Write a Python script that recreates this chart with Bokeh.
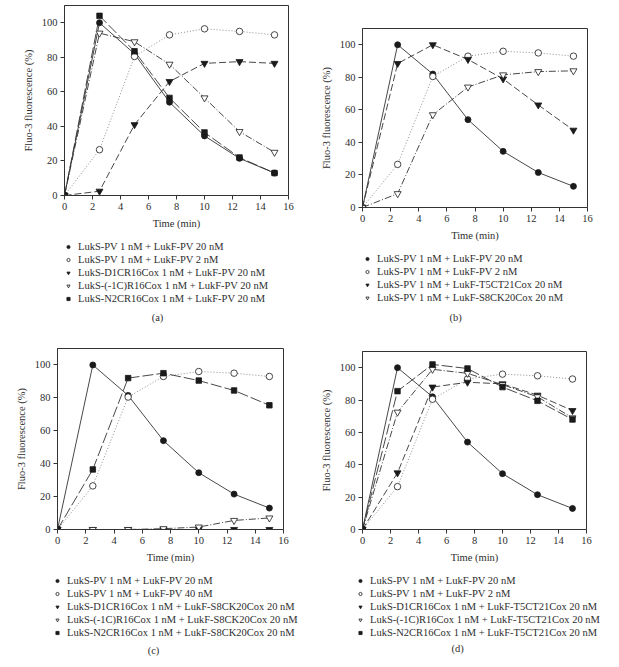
from bokeh.plotting import figure
from bokeh.models import Legend, LegendItem, Label, Range1d, FixedTicker
from bokeh.layouts import column, row
from bokeh.embed import file_html
from bokeh.resources import INLINE

# ---------------- data ----------------
time_min = [0, 2.5, 5, 7.5, 10, 12.5, 15]
x_ticks = [0, 2, 4, 6, 8, 10, 12, 14, 16]
y_ticks = [0, 20, 40, 60, 80, 100]

# panel (a)
a_pv20 = [0, 100, 82, 54, 34.5, 21.5, 13]
a_pv2 = [0, 26.5, 80.5, 93, 96.5, 95, 93]
a_d1c = [0, 2.5, 41, 66, 76.5, 77.5, 76.5]
a_m1c = [0, 94, 89, 76, 56.5, 37, 25]
a_n2c = [0, 104, 83.5, 56.5, 36.5, 22, 13]
a_labels = ["LukS-PV 1 nM + LukF-PV 20 nM",
            "LukS-PV 1 nM + LukF-PV 2 nM",
            "LukS-D1CR16Cox 1 nM + LukF-PV 20 nM",
            "LukS-(-1C)R16Cox 1 nM + LukF-PV 20 nM",
            "LukS-N2CR16Cox 1 nM + LukF-PV 20 nM"]

# panel (b)
b_pv20 = [0, 100, 82, 54, 34.5, 21.5, 13]
b_pv2 = [0, 26.5, 80.5, 93, 96, 95, 93]
b_t5c = [0, 88.5, 100, 91, 79, 63, 47.5]
b_s8c = [0, 8.5, 57, 74, 81.5, 83.5, 84]
b_labels = ["LukS-PV 1 nM + LukF-PV 20 nM",
            "LukS-PV 1 nM + LukF-PV 2 nM",
            "LukS-PV 1 nM + LukF-T5CT21Cox 20 nM",
            "LukS-PV 1 nM + LukF-S8CK20Cox 20 nM"]

# panel (c)
c_pv20 = [0, 100, 81.5, 54, 34.5, 21.5, 13]
c_pv40 = [0, 26.5, 80.5, 93, 96, 95, 93]
c_d1c = [0, 0, 0, 0, 0, 0, 0]
c_m1c = [0, 0, 0, 0.5, 1.5, 5.5, 7]
c_n2c = [0, 36.5, 92, 95, 90.5, 84.5, 75.5]
c_labels = ["LukS-PV 1 nM + LukF-PV 20 nM",
            "LukS-PV 1 nM + LukF-PV 40 nM",
            "LukS-D1CR16Cox 1 nM + LukF-S8CK20Cox 20 nM",
            "LukS-(-1C)R16Cox 1 nM + LukF-S8CK20Cox 20 nM",
            "LukS-N2CR16Cox 1 nM + LukF-S8CK20Cox 20 nM"]

# panel (d)
d_pv20 = [0, 100, 82, 54, 34.5, 21.5, 13]
d_pv2 = [0, 26.5, 80.5, 93, 96, 95, 93]
d_d1c = [0, 35, 88, 91, 90, 83, 73.5]
d_m1c = [0, 72.5, 99, 96.5, 89.5, 82, 69]
d_n2c = [0, 85.5, 102, 99.5, 88, 79.5, 68]
d_labels = ["LukS-PV 1 nM + LukF-PV 20 nM",
            "LukS-PV 1 nM + LukF-PV 2 nM",
            "LukS-D1CR16Cox 1 nM + LukF-T5CT21Cox 20 nM",
            "LukS-(-1C)R16Cox 1 nM + LukF-T5CT21Cox 20 nM",
            "LukS-N2CR16Cox 1 nM + LukF-T5CT21Cox 20 nM"]

# ---------------- styles ----------------
FONT = "Liberation Serif"
INK = "#2e2e2e"
STY = {
    "fcircle": dict(marker="circle", size=6, fill="#1a1a1a", dash="solid", lc="#333333"),
    "ocircle": dict(marker="circle", size=6.5, fill="white", dash="1 2", lc="#808080"),
    "ftri": dict(marker="inverted_triangle", size=7, fill="#1a1a1a", dash="7 3", lc="#333333"),
    "otri": dict(marker="inverted_triangle", size=7, fill="white", dash="7 2 1 2", lc="#333333"),
    "fsq": dict(marker="square", size=5.5, fill="#1a1a1a", dash="11 3", lc="#333333"),
}


def chart(W, H, bl, br, bt, bb, series):
    p = figure(width=W, height=H, min_border_left=bl, min_border_right=br,
               min_border_top=bt, min_border_bottom=bb,
               x_range=Range1d(0, 16), y_range=Range1d(0, 110),
               output_backend="svg", toolbar_location=None)
    p.title.visible = False
    p.grid.visible = False
    p.outline_line_color = "#333333"
    p.outline_line_width = 1
    p.xaxis.ticker = FixedTicker(ticks=x_ticks)
    p.yaxis.ticker = FixedTicker(ticks=y_ticks)
    p.xaxis.axis_label = "Time (min)"
    p.yaxis.axis_label = "Fluo-3 fluorescence (%)"
    for ax in (p.xaxis, p.yaxis):
        ax.major_tick_in = 0
        ax.major_tick_out = 4
        ax.minor_tick_line_color = None
        ax.axis_line_color = "#333333"
        ax.major_tick_line_color = "#333333"
        ax.major_label_text_font = FONT
        ax.major_label_text_font_size = "10.5px"
        ax.major_label_text_color = INK
        ax.axis_label_text_font = FONT
        ax.axis_label_text_font_size = "10.5px"
        ax.axis_label_text_font_style = "normal"
        ax.axis_label_text_color = INK
        ax.major_label_standoff = 3
    p.xaxis.axis_label_standoff = 5
    p.yaxis.axis_label_standoff = 5
    for (kind, ys) in series:
        s = STY[kind]
        p.line(time_min, ys, line_color=s["lc"], line_width=0.9, line_dash=s["dash"])
    for (kind, ys) in series:
        s = STY[kind]
        p.scatter(time_min, ys, marker=s["marker"], size=s["size"],
                  fill_color=s["fill"], line_color="#1a1a1a", line_width=0.8)
    return p


def key(W, H, series, labels, leg_xy, cap, cap_xy):
    k = figure(width=W, height=H, min_border_left=0, min_border_right=0,
               min_border_top=0, min_border_bottom=0,
               x_range=Range1d(0, 16), y_range=Range1d(0, 110),
               x_axis_location=None, y_axis_location=None,
               output_backend="svg", toolbar_location=None)
    k.title.visible = False
    k.grid.visible = False
    k.outline_line_color = None
    items = []
    for (kind, ys), lab in zip(series, labels):
        s = STY[kind]
        r = k.scatter(time_min, ys, marker=s["marker"], size=s["size"] - 0.5,
                      fill_color=s["fill"], line_color="#1a1a1a", line_width=0.8,
                      visible=False)
        items.append(LegendItem(label=lab, renderers=[r]))
    leg = Legend(items=items, location=leg_xy, orientation="vertical",
                 glyph_width=8, glyph_height=13, label_height=13, spacing=0,
                 padding=0, margin=0, label_standoff=6,
                 border_line_color=None, background_fill_alpha=0,
                 inactive_fill_alpha=0,
                 label_text_font=FONT, label_text_font_size="10.5px",
                 label_text_color=INK)
    k.add_layout(leg)
    k.add_layout(Label(x=cap_xy[0], y=cap_xy[1], x_units="screen", y_units="screen",
                       text=cap, text_align="center", text_baseline="middle",
                       text_font=FONT, text_font_size="10.5px", text_color=INK))
    return k


sa = [("fcircle", a_pv20), ("ocircle", a_pv2), ("ftri", a_d1c), ("otri", a_m1c), ("fsq", a_n2c)]
sb = [("fcircle", b_pv20), ("ocircle", b_pv2), ("ftri", b_t5c), ("otri", b_s8c)]
sc = [("fcircle", c_pv20), ("ocircle", c_pv40), ("ftri", c_d1c), ("otri", c_m1c), ("fsq", c_n2c)]
sd = [("fcircle", d_pv20), ("ocircle", d_pv2), ("ftri", d_d1c), ("otri", d_m1c), ("fsq", d_n2c)]

pa = chart(309, 233, 64, 21, 5, 38, sa)
ka = key(309, 100, sa, a_labels, (64, 28), "(a)", (157, 16))
pb = chart(310, 245, 53, 32, 28, 38, sb)
kb = key(310, 88, sb, b_labels, (54, 29), "(b)", (146, 16))
pc = chart(309, 234, 57, 26, 15, 38, sc)
kc = key(309, 100, sc, c_labels, (53, 28), "(c)", (153, 17))
pd = chart(310, 234, 53, 33, 18, 38, sd)
kd = key(310, 100, sd, d_labels, (47, 28), "(d)", (148, 19))

layout = column(row(column(column(pa), column(ka)), column(column(pb), column(kb))),
                row(column(column(pc), column(kc)), column(column(pd), column(kd))))
open("out.html", "w").write(file_html(layout, INLINE))
